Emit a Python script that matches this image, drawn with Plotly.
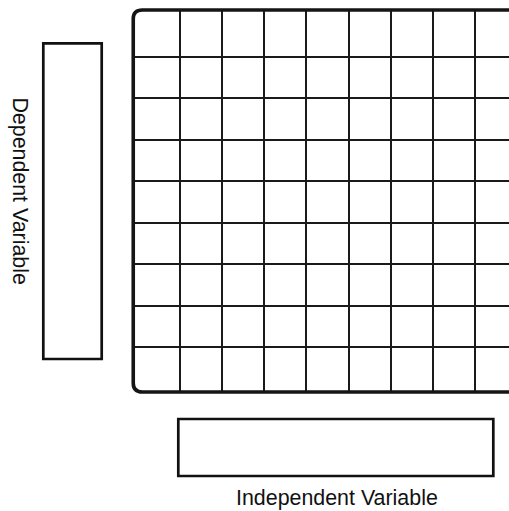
import plotly.graph_objects as go

# Grid structure (cell indices of the interior wires)
column_lines = [1, 2, 3, 4, 5, 6, 7, 8]
row_lines = [1, 2, 3, 4, 5, 6, 7, 8]
x_label = "Independent Variable"
y_label = "Dependent Variable"

W, H = 509, 511
ML, MR, MT, MB = 134, 0, 10, 119
PW, PH = W - ML - MR, H - MT - MB


def px2x(px):
    return (px - ML) / PW


def px2y(py):
    return (H - MB - py) / PH


fig = go.Figure()
fig.add_trace(go.Scatter(x=[], y=[], mode="markers", showlegend=False, hoverinfo="skip"))

axis_common = dict(
    showgrid=True, gridcolor="#1a1a1a", gridwidth=2.4,
    showticklabels=False, ticks="", zeroline=False, showline=False,
    fixedrange=True,
)
fig.update_xaxes(tickmode="array", tickvals=column_lines, range=[-0.0916, 8.807], **axis_common)
fig.update_yaxes(tickmode="array", tickvals=row_lines, range=[-0.0862, 9.134], **axis_common)

# Wire frame with rounded left corners, running off the right edge
rx, ry = 9 / PW, 9 / PH
x0 = -0.002
frame = (f"M 1.05,1 L {x0 + rx},1 Q {x0},1 {x0},{1 - ry} "
         f"L {x0},{ry} Q {x0},0 {x0 + rx},0 L 1.05,0")
shapes = [
    dict(type="path", xref="paper", yref="paper", path=frame,
         line=dict(color="#151515", width=3.6)),
    dict(type="rect", xref="paper", yref="paper",
         x0=px2x(43.3), x1=px2x(101.7), y0=px2y(359), y1=px2y(43.3),
         line=dict(color="#111111", width=2.7), fillcolor="white"),
    dict(type="rect", xref="paper", yref="paper",
         x0=px2x(178.3), x1=px2x(493.3), y0=px2y(476), y1=px2y(419),
         line=dict(color="#111111", width=2.7), fillcolor="white"),
]

label_font = dict(family="Liberation Sans, Arial, sans-serif", size=21.4, color="#111111")
annotations = [
    dict(text=x_label, xref="paper", yref="paper", x=px2x(337.0), y=px2y(498.3),
         xanchor="center", yanchor="middle", showarrow=False, font=label_font),
    dict(text=y_label, xref="paper", yref="paper", x=px2x(19.6), y=px2y(191),
         xanchor="center", yanchor="middle", showarrow=False, textangle=90, font=label_font),
]

fig.update_layout(
    width=W, height=H,
    margin=dict(l=ML, r=MR, t=MT, b=MB, pad=0),
    paper_bgcolor="white", plot_bgcolor="white",
    shapes=shapes, annotations=annotations,
    showlegend=False,
)

fig.write_html(
    "out.html",
    config={"displayModeBar": False},
    post_script="document.body.style.margin='0px';document.body.style.overflow='hidden';",
)
